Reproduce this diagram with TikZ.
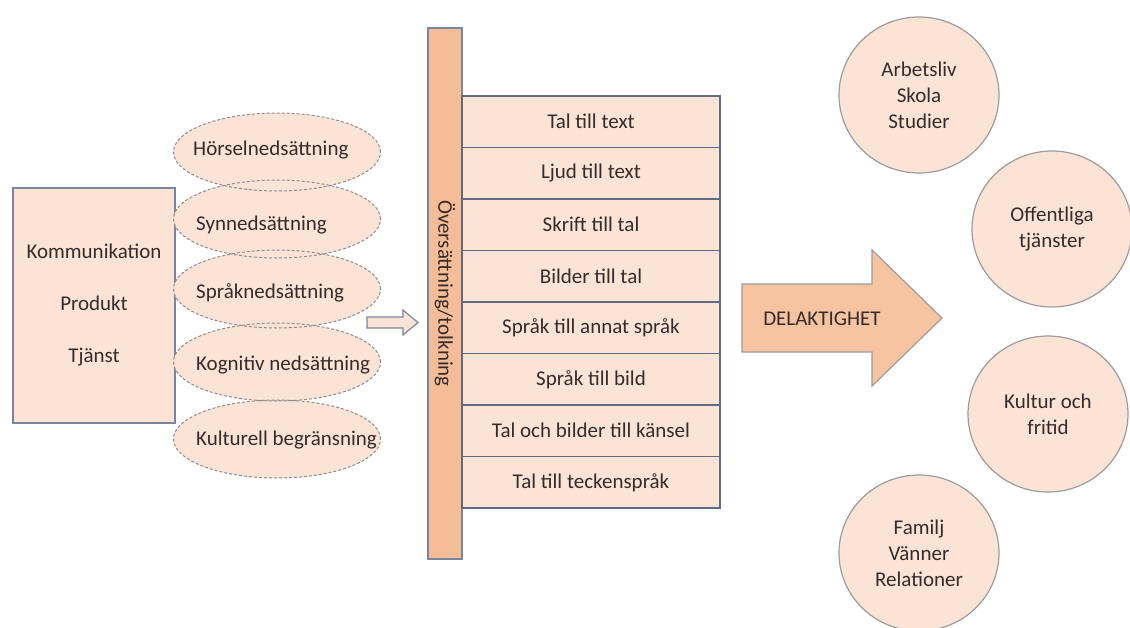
\documentclass[tikz,border=0pt]{standalone}
\usepackage{fontspec}
\setmainfont{Carlito}
\usetikzlibrary{shapes.geometric}
\definecolor{lightpeach}{HTML}{FBE4D5}
\definecolor{barpeach}{HTML}{F5BD97}
\definecolor{arrowpeach}{HTML}{F7C4A1}
\definecolor{boxline}{HTML}{7A869E}
\definecolor{rowline}{HTML}{5F6B85}
\definecolor{circline}{HTML}{9C9C9C}
\definecolor{dashline}{HTML}{8C8C8C}
\definecolor{txt}{HTML}{352B2B}
\begin{document}
\begin{tikzpicture}[x=1pt,y=-1pt,
  font=\fontsize{21}{26}\selectfont, text=txt,
  kbox/.style={draw=boxline, line width=1.5pt, fill=lightpeach, minimum width=162pt, minimum height=235pt, align=center, inner sep=0pt, font=\fontsize{21}{52}\selectfont},
  limfill/.style={ellipse, fill=lightpeach, minimum width=207pt, minimum height=78pt, inner sep=0pt},
  limline/.style={ellipse, draw=dashline, dash pattern=on 3pt off 2pt, line width=1pt, minimum width=207pt, minimum height=78pt, inner sep=0pt},
  limtext/.style={anchor=west, inner sep=0pt},
  rowbox/.style={draw=rowline, line width=1.5pt, fill=lightpeach, minimum width=258pt, minimum height=51.5pt, inner sep=0pt},
  barbox/.style={draw=boxline, line width=1.5pt, fill=barpeach, rotate=-90, minimum width=531pt, minimum height=34pt, inner sep=0pt},
  area/.style={ellipse, draw=circline, line width=1.2pt, fill=lightpeach, minimum width=160pt, minimum height=156pt, align=center, inner sep=0pt},
  blockarrow/.style={draw=boxline, line width=1.2pt, fill=lightpeach},
  bigarrow/.style={draw=circline, line width=1.2pt, fill=arrowpeach}
]
\useasboundingbox (0,0) rectangle (1130,627);
\fill[white] (0,0) rectangle (1130,627);

% left box
\node[kbox] (kpt) at (94,305.5) {Kommunikation\\Produkt\\Tjänst};

% ellipses: fills first, outlines on top
\node[limfill] (e1f) at (277,152) {};
\node[limfill] (e2f) at (277,219) {};
\node[limfill] (e3f) at (277,289) {};
\node[limfill] (e4f) at (277,362) {};
\node[limfill] (e5f) at (277,439) {};
\node[limline] (e1) at (277,152) {};
\node[limline] (e2) at (277,219) {};
\node[limline] (e3) at (277,289) {};
\node[limline] (e4) at (277,362) {};
\node[limline] (e5) at (277,439) {};
\node[limtext] (t1) at (193,150) {Hörselnedsättning};
\node[limtext] (t2) at (196,225) {Synnedsättning};
\node[limtext] (t3) at (196,293) {Språknedsättning};
\node[limtext] (t4) at (196,365) {Kognitiv nedsättning};
\node[limtext] (t5) at (196,440) {Kulturell begränsning};

% small block arrow
\coordinate (sa1) at (367,322.5);
\coordinate (sa2) at (418,322.5);
\draw[blockarrow] (367,317) -- (403,317) -- (403,310) -- (sa2) -- (403,335) -- (403,328) -- (367,328) -- cycle;

% vertical bar
\node[barbox] (bar) at (445,293.5) {Översättning/tolkning};

% rows
\node[rowbox] (r1) at (591,121.75) {Tal till text};
\node[rowbox] (r2) at (591,173.25) {Ljud till text};
\node[rowbox] (r3) at (591,224.75) {Skrift till tal};
\node[rowbox] (r4) at (591,276.25) {Bilder till tal};
\node[rowbox] (r5) at (591,327.75) {Språk till annat språk};
\node[rowbox] (r6) at (591,379.25) {Språk till bild};
\node[rowbox] (r7) at (591,430.75) {Tal och bilder till känsel};
\node[rowbox] (r8) at (591,482.25) {Tal till teckenspråk};

% big arrow
\coordinate (batip) at (942,318);
\draw[bigarrow] (742,284) -- (872,284) -- (872,250) -- (batip) -- (872,386) -- (872,352) -- (742,352) -- cycle;
\node[inner sep=0pt] (delak) at (822,319) {DELAKTIGHET};

% circles
\node[area] (c1) at (919,95) {Arbetsliv\\Skola\\Studier};
\node[area] (c2) at (1052,229) {Offentliga\\tjänster};
\node[area] (c3) at (1048,414) {Kultur och\\fritid};
\node[area] (c4) at (919,553) {Familj\\Vänner\\Relationer};
\end{tikzpicture}
\end{document}
